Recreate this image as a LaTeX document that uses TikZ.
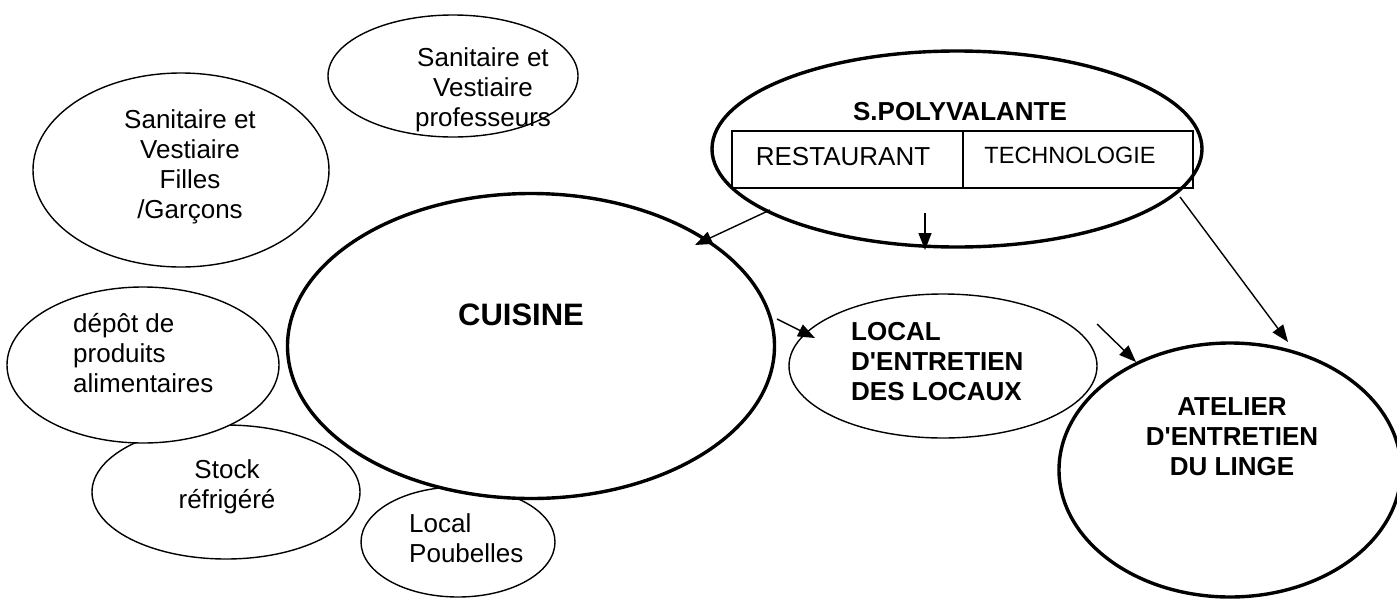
\documentclass[tikz,border=0pt]{standalone}
\usepackage{fontspec}
\setmainfont{Liberation Sans}
\usetikzlibrary{shapes.geometric,arrows.meta}
\begin{document}
\begin{tikzpicture}[x=1pt,y=-1pt,
  room/.style={ellipse,draw,fill=white,inner sep=0pt,line width=1.4pt},
  bigroom/.style={ellipse,draw,fill=white,inner sep=0pt,line width=3.4pt},
  txt/.style={font=\fontsize{26}{30}\selectfont,inner sep=0pt},
  btxt/.style={font=\fontsize{26}{30}\selectfont\bfseries,inner sep=0pt},
  cell/.style={draw,line width=1.2pt,minimum height=57pt,inner sep=0pt},
  flow/.style={line width=1.4pt,-{Triangle[length=17pt,width=13pt]}}]
\useasboundingbox (0,0) rectangle (1397,600);
% ellipses
\node[room,minimum width=250pt,minimum height=122pt] (prof) at (453,76) {};
\node[room,minimum width=296pt,minimum height=194pt] (filles) at (181,170) {};
\node[room,minimum width=268pt,minimum height=134pt] (stock) at (226,492) {};
\node[room,minimum width=272pt,minimum height=156pt] (depot) at (143,365) {};
\node[room,minimum width=194pt,minimum height=110pt] (poub) at (458,542) {};
\node[bigroom,minimum width=487pt,minimum height=305pt] (cuisine) at (531,346) {};
\node[room,minimum width=308pt,minimum height=144pt] (local) at (943,366) {};
\node[bigroom,minimum width=342pt,minimum height=254pt] (atelier) at (1230,470) {};
\node[bigroom,minimum width=490pt,minimum height=196pt] (poly) at (957,149) {};
% table
\node[cell,minimum width=231pt] (resto) at (847.5,159.5) {};
\node[cell,minimum width=230pt] (techno) at (1078,159.5) {};
% texts
\node[txt,align=center] (tprof) at (483,90) {Sanitaire et\\Vestiaire\\professeurs};
\node[txt,align=center] (tfilles) at (190,167) {Sanitaire et\\Vestiaire\\Filles\\/Garçons};
\node[txt,align=left,anchor=west] (tdepot) at (73,353) {dépôt de\\produits\\alimentaires};
\node[txt,align=center] (tstock) at (227,487) {Stock\\réfrigéré};
\node[txt,align=left,anchor=west] (tpoub) at (409,538) {Local\\Poubelles};
\node[inner sep=0pt,font=\fontsize{31}{36}\selectfont\bfseries] (tcuisine) at (521,315) {CUISINE};
\node[btxt,align=left,anchor=west] (tlocal) at (851,362) {LOCAL\\D\textquotesingle ENTRETIEN\\DES LOCAUX};
\node[btxt,align=center] (tatelier) at (1232,437) {ATELIER\\D\textquotesingle ENTRETIEN\\DU LINGE};
\node[btxt] (tpoly) at (960,112) {S.POLYVALANTE};
\node[txt] (tresto) at (843,157) {RESTAURANT};
\node[inner sep=0pt,font=\fontsize{23.5}{28}\selectfont] (ttechno) at (1070,155) {TECHNOLOGIE};
% arrow ends
\coordinate (a1s) at (770,210);
\coordinate (a1e) at (695,245);
\coordinate (a2s) at (925,213);
\coordinate (a2e) at (925,250);
\coordinate (a3s) at (1180,197);
\coordinate (a3e) at (1288,342);
\coordinate (a4s) at (777,319);
\coordinate (a4e) at (815,338);
\coordinate (a5s) at (1097,324);
\coordinate (a5e) at (1136,362);
\draw[flow] (a1s) -- (a1e);
\draw[flow] (a2s) -- (a2e);
\draw[flow] (a3s) -- (a3e);
\draw[flow] (a4s) -- (a4e);
\draw[flow] (a5s) -- (a5e);
\end{tikzpicture}
\end{document}
